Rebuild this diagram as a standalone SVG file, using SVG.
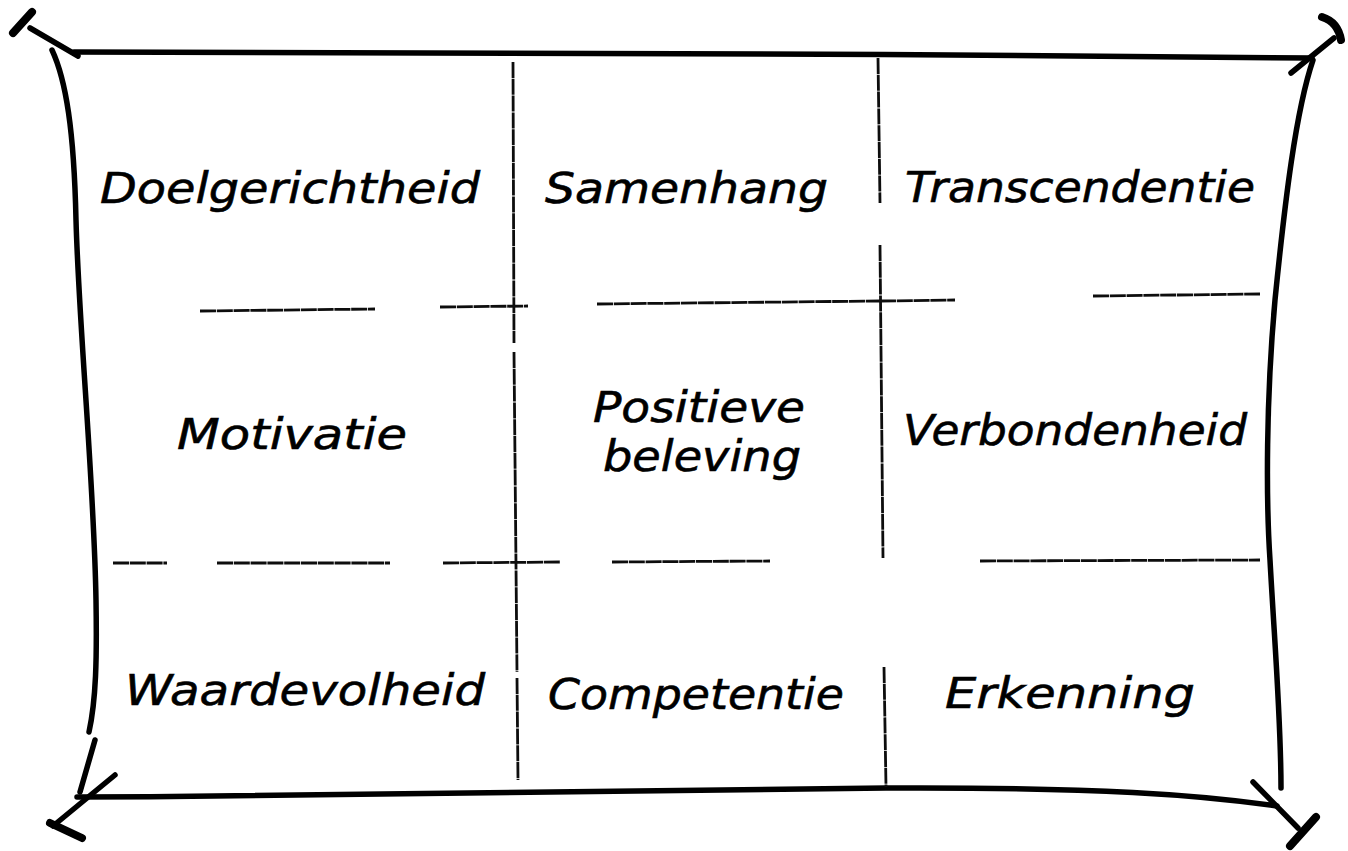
<svg xmlns="http://www.w3.org/2000/svg" width="1348" height="851" viewBox="0 0 1348 851">
  <style>
    .frame { fill: none; stroke: #000; stroke-width: 5.5; stroke-linecap: round; stroke-linejoin: round; }
    .cap { fill: none; stroke: #000; stroke-width: 8; stroke-linecap: round; }
    .grid { fill: none; stroke: #0d0d0d; stroke-width: 2.8; stroke-dasharray: 16 0.8; stroke-linecap: butt; }
    .label { font-family: "DejaVu Sans", "Noto Sans", sans-serif; font-style: oblique; font-size: 42px; fill: #000; stroke: #000; stroke-width: 0.6; }
  </style>

  <rect width="1348" height="851" fill="#fff"/>

  <!-- hand-drawn outer frame with crossed corners -->
  <g id="frame">
    <path class="frame" d="M74,52 C 450,51 900,54 1312,58"/>
    <path class="frame" d="M52,50 C 66,80 74,130 76,220 C 79,330 94,480 96,600 C 97,660 96,700 89,732"/>
    <path class="frame" d="M95,740 L 80,792"/>
    <path class="frame" d="M77,797 C 300,797 500,790 886,788 C 1100,787 1200,795 1277,806"/>
    <path class="frame" d="M1313,60 C 1296,110 1285,200 1275,300 C 1266,400 1266,500 1270,560 C 1275,650 1281,720 1281,788"/>

    <path class="frame" d="M78,56 L 30,28"/>
    <path class="cap" d="M13,33 L 32,12"/>

    <path class="frame" d="M1291,73 L 1334,38"/>
    <path class="cap" d="M1322,17 Q 1338,22 1341,40"/>

    <path class="frame" d="M115,775 L 53,826"/>
    <path class="cap" d="M50,823 L 82,838"/>

    <path class="frame" d="M1253,782 L 1298,828"/>
    <path class="cap" d="M1290,846 L 1316,817"/>
  </g>

  <!-- thin sketched grid dividing the nine fields -->
  <g id="grid">
    <path class="grid" d="M513,62 L514,343"/>
    <path class="grid" d="M514,352 L517,672"/>
    <path class="grid" d="M517,678 L518,780"/>

    <path class="grid" d="M878,58 L880,203"/>
    <path class="grid" d="M880,245 L883,558"/>
    <path class="grid" d="M884,667 L886,787"/>

    <path class="grid" d="M200,311 L375,309"/>
    <path class="grid" d="M440,307 L528,306"/>
    <path class="grid" d="M597,304 L880,301"/>
    <path class="grid" d="M880,301 L955,300"/>
    <path class="grid" d="M1093,296 L1260,294"/>

    <path class="grid" d="M113,563 L167,563"/>
    <path class="grid" d="M217,563 L390,563"/>
    <path class="grid" d="M443,563 L560,562"/>
    <path class="grid" d="M612,562 L770,561"/>
    <path class="grid" d="M980,561 L1260,560"/>
  </g>

  <!-- field labels -->
  <g id="doelgerichtheid"><text class="label" x="100" y="203" textLength="380" lengthAdjust="spacingAndGlyphs">Doelgerichtheid</text></g>
  <g id="samenhang"><text class="label" x="545" y="203" textLength="283" lengthAdjust="spacingAndGlyphs">Samenhang</text></g>
  <g id="transcendentie"><text class="label" x="905" y="202" textLength="350" lengthAdjust="spacingAndGlyphs">Transcendentie</text></g>

  <g id="motivatie"><text class="label" x="177" y="449" textLength="230" lengthAdjust="spacingAndGlyphs">Motivatie</text></g>
  <g id="positieve-beleving">
    <text class="label" x="593" y="422" textLength="212" lengthAdjust="spacingAndGlyphs">Positieve</text>
    <text class="label" x="603" y="471" textLength="198" lengthAdjust="spacingAndGlyphs">beleving</text>
  </g>
  <g id="verbondenheid"><text class="label" x="903" y="445" textLength="344" lengthAdjust="spacingAndGlyphs">Verbondenheid</text></g>

  <g id="waardevolheid"><text class="label" x="125" y="705" textLength="360" lengthAdjust="spacingAndGlyphs">Waardevolheid</text></g>
  <g id="competentie"><text class="label" x="548" y="709" textLength="296" lengthAdjust="spacingAndGlyphs">Competentie</text></g>
  <g id="erkenning"><text class="label" x="945" y="708" textLength="250" lengthAdjust="spacingAndGlyphs">Erkenning</text></g>
</svg>
